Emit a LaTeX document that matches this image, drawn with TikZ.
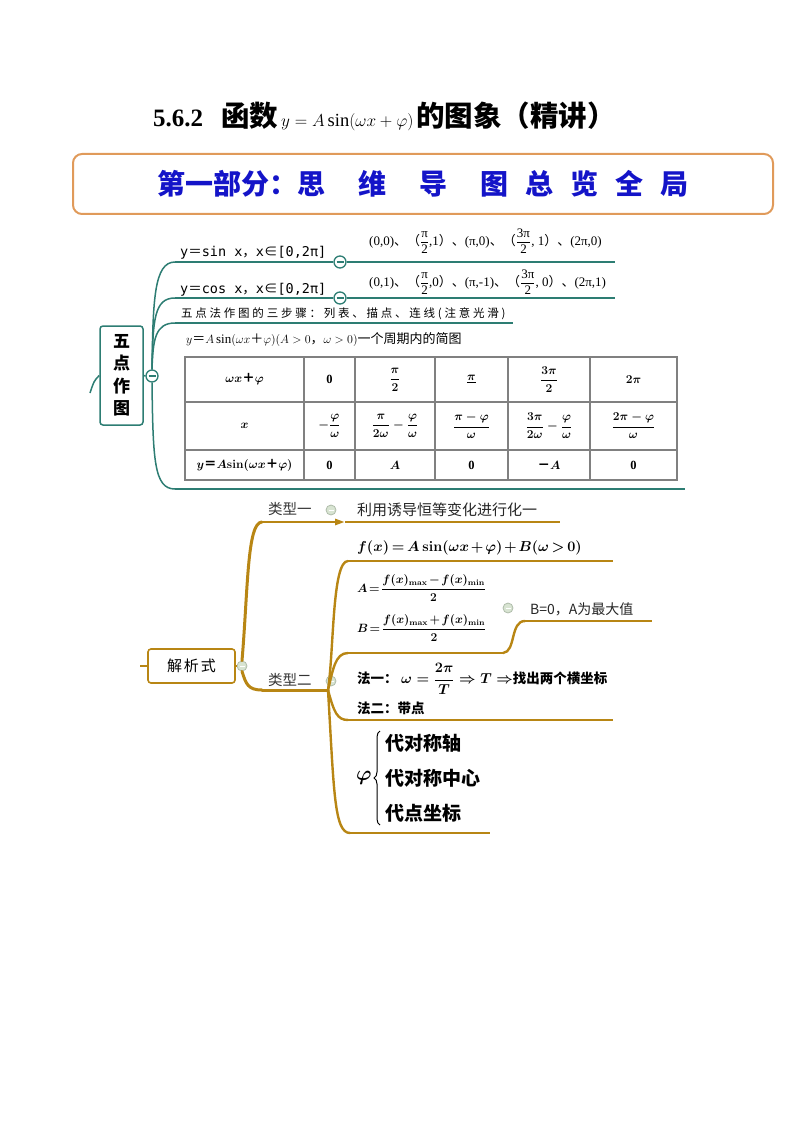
\documentclass[tikz,border=0pt]{standalone}
\usepackage{fontspec}
\usepackage{amsmath}
\setmainfont{Liberation Serif}
\newfontfamily\cjk{Noto Sans CJK SC}
\newfontfamily\monof{DejaVu Sans Mono}
\usetikzlibrary{arrows.meta,decorations.pathreplacing}
\definecolor{tealc}{RGB}{45,125,115}
\definecolor{goldc}{RGB}{184,134,20}
\definecolor{hdrorange}{RGB}{224,154,90}
\definecolor{hdrblue}{RGB}{20,20,200}
\definecolor{tblgray}{RGB}{128,128,128}
\definecolor{lightc}{RGB}{216,228,210}
\definecolor{lightd}{RGB}{175,188,170}
\newcommand{\myfs}[1]{\fontsize{#1}{#1}\selectfont}
\newcommand{\cp}[1]{{\cjk #1}}
\newcommand{\tfr}[2]{$\dfrac{\text{#1}}{\text{#2}}$}
\begin{document}
\begin{tikzpicture}[x=1pt,y=-1pt,
  tl/.style={draw=tealc,line width=1.5pt},
  gthick/.style={draw=goldc,line width=3pt,line cap=round},
  gmid/.style={draw=goldc,line width=2.4pt,line cap=round},
  gthin/.style={draw=goldc,line width=1.8pt},
  tcirc/.style={circle,draw=tealc,fill=white,line width=1.3pt,minimum size=12pt,inner sep=0pt,
    path picture={\draw[tealc,line width=1.3pt]([xshift=-3.5pt]path picture bounding box.center)--([xshift=3.5pt]path picture bounding box.center);}},
  lcirc/.style={circle,draw=lightd,fill=lightc,line width=0.8pt,minimum size=10pt,inner sep=0pt,
    path picture={\draw[white,line width=0.8pt]([xshift=-2.5pt]path picture bounding box.center)--([xshift=2.5pt]path picture bounding box.center);}},
  lbl/.style={anchor=base west,inner sep=0pt},
  cell/.style={inner sep=0pt,font=\myfs{12.5}\bfseries\boldmath},
  bmath/.style={inner sep=0pt,font=\myfs{#1}\bfseries\boldmath},
]
\useasboundingbox (0,0) rectangle (794,1123);

% title
\node[lbl] (title) at (153,127) {\myfs{25}\bfseries 5.6.2\hspace{18pt}{\cjk\myfs{28.5}\bfseries 函数}\hspace{3pt}{\myfs{18.5}\mdseries\unboldmath $y=A\sin(\omega x+\varphi)$}\hspace{3pt}{\cjk\myfs{28.5}\bfseries 的图象（精讲）}};

% header
\node[draw=hdrorange,line width=2pt,rounded corners=9pt,minimum width=700pt,minimum height=60pt,inner sep=0pt,
  text=hdrblue,font=\cjk\myfs{28}\bfseries] (hdr) at (423,184)
  {第一部分：思\hspace{33pt}维\hspace{33pt}导\hspace{33pt}图\hspace{17pt}总\hspace{17pt}览\hspace{17pt}全\hspace{17pt}局};

% ---------- upper mind map ----------
\node[draw=tealc,line width=1.5pt,rounded corners=3pt,minimum width=43pt,minimum height=99pt,inner sep=0pt,
  align=center,font=\cjk\fontsize{17}{22.5}\selectfont\bfseries] (wd) at (121.5,375.5) {五\\点\\作\\图};
\coordinate (stub) at (90,393);
\draw[tl] (stub) .. controls (94,381) .. (wd.west);
\node[tcirc] (c0) at (152,376) {};
\draw[tl] (wd.east) -- (c0.west);

\coordinate (l1) at (175,262);
\coordinate (l2) at (175,298);
\coordinate (l3) at (175,323);
\coordinate (l4) at (175,489);
\coordinate (r1) at (615,262);
\coordinate (r2) at (615,298);
\coordinate (r3) at (513,323);
\coordinate (r4) at (685,489);
\draw[tl] (c0.north) .. controls (153,300) and (154,262) .. (l1);
\draw[tl] (c0.north) .. controls (153,320) and (154,298) .. (l2);
\draw[tl] (c0.north) .. controls (153,340) and (155,323) .. (l3);
\draw[tl] (c0.south) .. controls (153,460) and (154,489) .. (l4);
\node[tcirc] (c1) at (340,262) {};
\node[tcirc] (c2) at (340,298) {};
\draw[tl] (l1) -- (c1.west);
\draw[tl] (c1.east) -- (r1);
\draw[tl] (l2) -- (c2.west);
\draw[tl] (c2.east) -- (r2);
\draw[tl] (l3) -- (r3);
\draw[tl] (l4) -- (r4);

\node[lbl] (t1) at (180,256) {\myfs{13.5}\monof y{\cjk＝}sin x{\cjk，}x{\cjk∈}[0,2π]};
\node[lbl] (t2) at (180,293) {\myfs{13.5}\monof y{\cjk＝}cos x{\cjk，}x{\cjk∈}[0,2π]};
\node[lbl] (t3) at (181,317) {\cjk\myfs{11.5}\addfontfeature{LetterSpace=24}五点法作图的三步骤：列表、描点、连线(注意光滑)};
\node[anchor=west,inner sep=0pt] (p1) at (369,241) {\myfs{13}(0,0)\cp{、}\cp{（}\tfr{π}{2},1\cp{）}\cp{、}(π,0)\cp{、}\cp{（}\tfr{3π}{2}, 1\cp{）}\cp{、}(2π,0)};
\node[anchor=west,inner sep=0pt] (p2) at (369,282) {\myfs{13}(0,1)\cp{、}\cp{（}\tfr{π}{2},0\cp{）}\cp{、}(π,-1)\cp{、}\cp{（}\tfr{3π}{2}, 0\cp{）}\cp{、}(2π,1)};
\node[lbl] (t4) at (186,343) {\myfs{13}$y${\cjk＝}$A\sin(\omega x${\cjk＋}$\varphi)(A>0${\cjk，}$\omega>0)${\cjk 一个周期内的简图}};

% table
\draw[tblgray,line width=1.3pt] (185,357) rectangle (677,480);
\draw[tblgray,line width=1.1pt] (185,402) -- (677,402) (185,450) -- (677,450);
\foreach \xx in {304,355,435,508,590} \draw[tblgray,line width=1.1pt] (\xx,357) -- (\xx,480);
\node[cell] (a1) at (244.5,379.5) {$\omega x${\cjk＋}$\varphi$};
\node[cell] (a2) at (329.5,379.5) {0};
\node[cell] (a3) at (395,379.5) {$\dfrac{\pi}{2}$};
\node[cell] (a4) at (471.5,379.5) {$\underline{\pi}$};
\node[cell] (a5) at (549,379.5) {$\dfrac{3\pi}{2}$};
\node[cell] (a6) at (633.5,379.5) {$2\pi$};
\node[cell] (b1) at (244.5,426) {$x$};
\node[cell] (b2) at (329.5,426) {$-\dfrac{\varphi}{\omega}$};
\node[cell] (b3) at (395,426) {$\dfrac{\pi}{2\omega}-\dfrac{\varphi}{\omega}$};
\node[cell] (b4) at (471.5,426) {$\dfrac{\pi-\varphi}{\omega}$};
\node[cell] (b5) at (549,426) {$\dfrac{3\pi}{2\omega}-\dfrac{\varphi}{\omega}$};
\node[cell] (b6) at (633.5,426) {$\dfrac{2\pi-\varphi}{\omega}$};
\node[cell] (d1) at (244.5,465) {$y${\cjk＝}$A\mathbf{sin}(\omega x${\cjk＋}$\varphi)$};
\node[cell] (d2) at (329.5,465) {0};
\node[cell] (d3) at (395,465) {$A$};
\node[cell] (d4) at (471.5,465) {0};
\node[cell] (d5) at (549,465) {{\cjk－}$A$};
\node[cell] (d6) at (633.5,465) {0};

% formulas of the lower part
\node[bmath=15,anchor=base west] (eqf) at (357,551) {\medmuskip=2mu\thickmuskip=3mu$f(x)=A\,\mathbf{sin}(\omega x+\varphi)+B(\omega>0)$};
\node[bmath=11.5,anchor=west] (eqa) at (357,588) {\medmuskip=2mu\thickmuskip=2mu$A=\dfrac{f(x)_{\mathbf{max}}-f(x)_{\mathbf{min}}}{2}$};
\node[bmath=11.5,anchor=west] (eqb) at (357,628) {\medmuskip=2mu\thickmuskip=2mu$B=\dfrac{f(x)_{\mathbf{max}}+f(x)_{\mathbf{min}}}{2}$};
\node[bmath=13.5,anchor=west] (eqy) at (357,679) {{\cjk 法一：}\ $\omega=\dfrac{2\pi}{T}\Rightarrow T\Rightarrow${\cjk 找出两个横坐标}};
\node[bmath=13.5,anchor=base west] (eqe) at (357,713) {\cjk 法二：带点};
\node[bmath=20,anchor=west] (eqp) at (356,778) {$\varphi$};

% ---------- lower mind map ----------
\node[draw=goldc,line width=1.6pt,rounded corners=3pt,minimum width=87pt,minimum height=34pt,inner sep=0pt,
  font=\cjk\myfs{15}\addfontfeature{LetterSpace=12}] (jx) at (191.5,666) {解析式};
\coordinate (jstub) at (140,666);
\draw[goldc,line width=1.6pt] (jstub) -- (jx.west);
\node[lcirc] (g0) at (242,666) {};
\draw[goldc,line width=1.6pt] (jx.east) -- (g0.west);

\coordinate (k1) at (262,522);
\coordinate (k1a) at (345,522);
\coordinate (k1b) at (560,522);
\draw[gthick] (g0.north) .. controls (248,590) and (247,522) .. (k1);
\draw[goldc,line width=2.6pt,-{Triangle[length=10pt,width=6pt]}] (k1) -- (k1a);
\draw[gthin] (k1a) -- (k1b);
\node[lcirc] (g1) at (331,510) {};
\node[lbl,font=\cjk\myfs{14.5},text=black!80] (y1) at (268,514) {类型一};
\node[lbl,font=\cjk\myfs{15},text=black!85] (y1t) at (357,515) {利用诱导恒等变化进行化一};

\coordinate (k2) at (262,690);
\coordinate (k2a) at (328,690);
\draw[gthick] (g0.south) .. controls (246,684) and (248,690) .. (k2);
\draw[gthick] (k2) -- (k2a);
\node[lcirc] (g2) at (331,681) {};
\node[lbl,font=\cjk\myfs{14.5},text=black!80] (y2) at (268,685) {类型二};

\coordinate (m1) at (348,561);
\coordinate (m1r) at (613,561);
\coordinate (m2) at (348,653);
\coordinate (m2r) at (503,653);
\coordinate (m3) at (525,621);
\coordinate (m3r) at (652,621);
\coordinate (m4) at (348,720);
\coordinate (m4r) at (613,720);
\coordinate (m5) at (350,833);
\coordinate (m5r) at (490,833);
\draw[gmid] (k2a) .. controls (334,650) and (332,561) .. (m1);
\draw[gthin] (m1) -- (m1r);
\draw[gmid] (k2a) .. controls (333,670) and (335,653) .. (m2);
\draw[gthin] (m2) -- (m2r);
\draw[gmid] (m2r) .. controls (516,652) and (510,621) .. (m3);
\draw[gthin] (m3) -- (m3r);
\draw[gmid] (k2a) .. controls (334,712) and (337,720) .. (m4);
\draw[gthin] (m4) -- (m4r);
\draw[gmid] (k2a) .. controls (334,790) and (334,833) .. (m5);
\draw[gthin] (m5) -- (m5r);

\node[lcirc] (g3) at (508,608) {};
\node[lbl,font=\cjk\myfs{14},text=black!85] (bz) at (530,614) {B=0，A为最大值};
\draw[black,line width=1pt,decoration={brace,amplitude=6pt},decorate] (380,825) -- (380,731);
\node[lbl,font=\cjk\myfs{19}\bfseries] (q1) at (385,750) {代对称轴};
\node[lbl,font=\cjk\myfs{19}\bfseries] (q2) at (385,785) {代对称中心};
\node[lbl,font=\cjk\myfs{19}\bfseries] (q3) at (385,820) {代点坐标};
\end{tikzpicture}
\end{document}
